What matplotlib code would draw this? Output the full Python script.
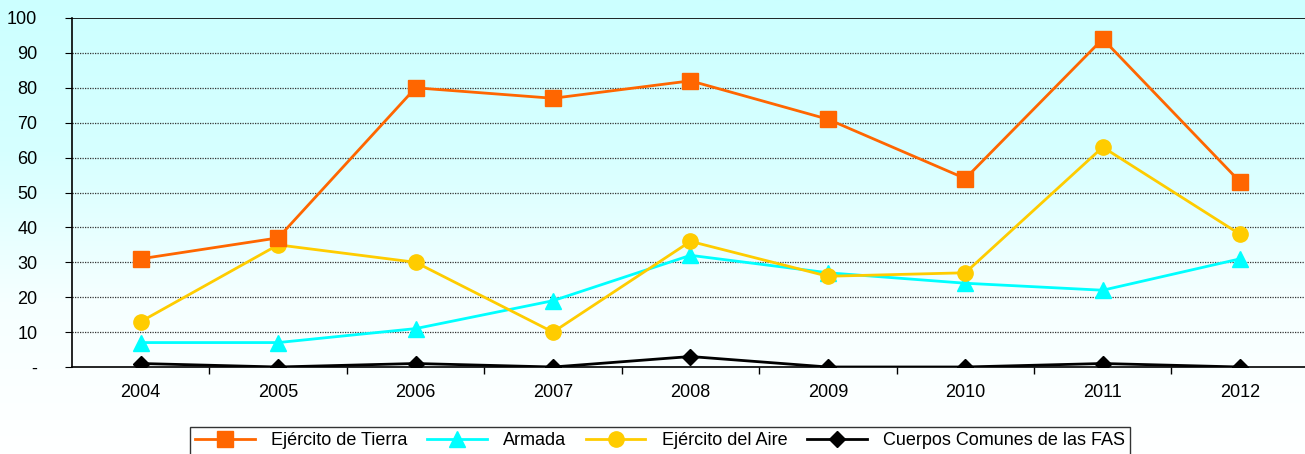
import numpy as np
import matplotlib.pyplot as plt
from matplotlib.colors import LinearSegmentedColormap

plt.rcParams['font.family'] = ['Liberation Sans', 'DejaVu Sans']

# data
years = ['2004', '2005', '2006', '2007', '2008', '2009', '2010', '2011', '2012']
tierra = [31, 37, 80, 77, 82, 71, 54, 94, 53]
armada = [7, 7, 11, 19, 32, 27, 24, 22, 31]
aire = [13, 35, 30, 10, 36, 26, 27, 63, 38]
comunes = [1, 0, 1, 0, 3, 0, 0, 1, 0]
series_names = ['Ejército de Tierra', 'Armada', 'Ejército del Aire', 'Cuerpos Comunes de las FAS']
y_ticks = [0, 10, 20, 30, 40, 50, 60, 70, 80, 90, 100]
y_labels = ['-', '10', '20', '30', '40', '50', '60', '70', '80', '90', '100']

fig = plt.figure(figsize=(13.05, 4.54), dpi=100)

# background gradient (cyan at top fading to white at bottom)
bg = fig.add_axes([0, 0, 1, 1], zorder=-10)
grad = np.linspace(0, 1, 256).reshape(-1, 1)
cmap = LinearSegmentedColormap.from_list('bg', ['#ccffff', '#d6ffff', '#f6ffff', '#ffffff'])
bg.imshow(grad, aspect='auto', cmap=cmap, extent=[0, 1, 0, 1], origin='upper')
bg.axis('off')

ax = fig.add_axes([72 / 1305, 1 - 367 / 454, 1 - 72 / 1305 + 0.003, (367 - 18) / 454])
ax.patch.set_alpha(0)

x = np.arange(len(years))
ax.plot(x, tierra, color='#ff6600', lw=2, marker='s', ms=11, label=series_names[0], zorder=5)
ax.plot(x, armada, color='#00ffff', lw=2, marker='^', ms=11, label=series_names[1], zorder=4)
ax.plot(x, aire, color='#ffcc00', lw=2, marker='o', ms=11, label=series_names[2], zorder=4)
ax.plot(x, comunes, color='black', lw=2, marker='D', ms=8, label=series_names[3], zorder=6)

ax.set_xlim(-0.5, len(years) - 0.5)
ax.set_ylim(0, 100)
ax.set_yticks(y_ticks)
ax.set_yticklabels(y_labels)
ax.set_xticks(x)
ax.set_xticklabels(years)
ax.set_xticks(np.arange(0.5, len(years) - 0.5, 1), minor=True)
ax.tick_params(axis='x', which='major', length=0, pad=12, labelsize=13)
ax.tick_params(axis='x', which='minor', length=5, direction='out', width=1)
ax.tick_params(axis='y', length=5, direction='out', pad=20, labelsize=13)

for v in y_ticks[1:-1]:
    ax.axhline(v, color='#333333', lw=0.9, ls=(0, (1, 1)), zorder=1)
ax.axhline(100, color='black', lw=1.2, zorder=1)

for s in ['top', 'right']:
    ax.spines[s].set_visible(False)
ax.spines['left'].set_linewidth(1.2)
ax.spines['bottom'].set_linewidth(1.2)

leg = fig.legend(loc='upper center', bbox_to_anchor=(660 / 1305, 1 - 427 / 454), ncol=4,
                 fontsize=13, frameon=True, fancybox=False, edgecolor='black',
                 handlelength=3.3, handletextpad=0.9, columnspacing=1.1,
                 borderpad=0.3, borderaxespad=0)
leg.get_frame().set_linewidth(1)
leg.get_frame().set_facecolor('white')

fig.savefig('out.png', dpi=100)
